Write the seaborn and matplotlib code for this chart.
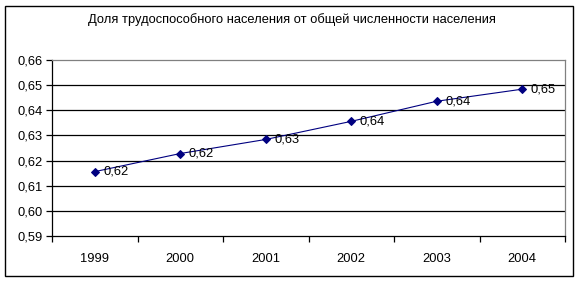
import matplotlib
matplotlib.use("Agg")
import matplotlib.pyplot as plt
import seaborn as sns
import pandas as pd
import numpy as np
from matplotlib.patches import Rectangle

years = ["1999", "2000", "2001", "2002", "2003", "2004"]
values = [0.6156, 0.6228, 0.6284, 0.6356, 0.6436, 0.6484]
labels = ["0,62", "0,62", "0,63", "0,64", "0,64", "0,65"]
yticks = [0.59, 0.60, 0.61, 0.62, 0.63, 0.64, 0.65, 0.66]
ytick_labels = ["0,59", "0,60", "0,61", "0,62", "0,63", "0,64", "0,65", "0,66"]
title = "Доля трудоспособного населения от общей численности населения"

sns.set_style("white")
plt.rcParams['font.family'] = ['Liberation Sans', 'DejaVu Sans']
plt.rcParams['text.color'] = 'black'
plt.rcParams['xtick.color'] = 'black'
plt.rcParams['ytick.color'] = 'black'

FS = 9.3

df = pd.DataFrame({"idx": np.arange(len(years)), "value": values})

fig = plt.figure(figsize=(5.81, 2.82), dpi=100)
fig.patch.set_facecolor("white")
ax = fig.add_axes([52/581, 46/282, 513/581, 176/282])

sns.lineplot(data=df, x="idx", y="value", ax=ax, color="#000080", lw=0.8,
             marker="D", markersize=4, markeredgecolor="#000080", zorder=5)

for i, (v, lab) in enumerate(zip(values, labels)):
    ax.annotate(lab, (i, v), xytext=(6, 0), textcoords="offset points",
                va="center", ha="left", fontsize=FS, color="black", zorder=6)

ax.set_xlim(-0.5, len(years) - 0.5)
ax.set_ylim(0.59, 0.66)
ax.set_yticks(yticks)
ax.set_yticklabels(ytick_labels, fontsize=FS)
ax.set_xticks(np.arange(-0.5, len(years), 1.0))
ax.set_xticklabels([])
ax.set_xticks(np.arange(len(years)), minor=True)
ax.set_xticklabels(years, minor=True, fontsize=FS)
ax.tick_params(axis="x", which="major", bottom=True, direction="out", length=4, width=0.9, color="black")
ax.tick_params(axis="x", which="minor", bottom=True, length=0, pad=12, labelcolor="black")
ax.tick_params(axis="y", left=True, direction="out", length=4, width=0.9, color="black", pad=3, labelcolor="black")
ax.set_xlabel("")
ax.set_ylabel("")

for y in yticks[1:-1]:
    ax.axhline(y, color="black", lw=0.9, zorder=1)

for s in ["left", "bottom"]:
    ax.spines[s].set_color("black")
    ax.spines[s].set_linewidth(0.9)
for s in ["top", "right"]:
    ax.spines[s].set_visible(True)
    ax.spines[s].set_color("#808080")
    ax.spines[s].set_linewidth(0.9)

fig.text(292/581, 1 - 20/282, title, ha="center", va="center", fontsize=FS, color="black")

fig.patches.append(Rectangle((5/581, 6/282), 568/581, 270/282, transform=fig.transFigure,
                             fill=False, edgecolor="black", lw=1.0))

fig.savefig("out.png", dpi=100, facecolor="white")
